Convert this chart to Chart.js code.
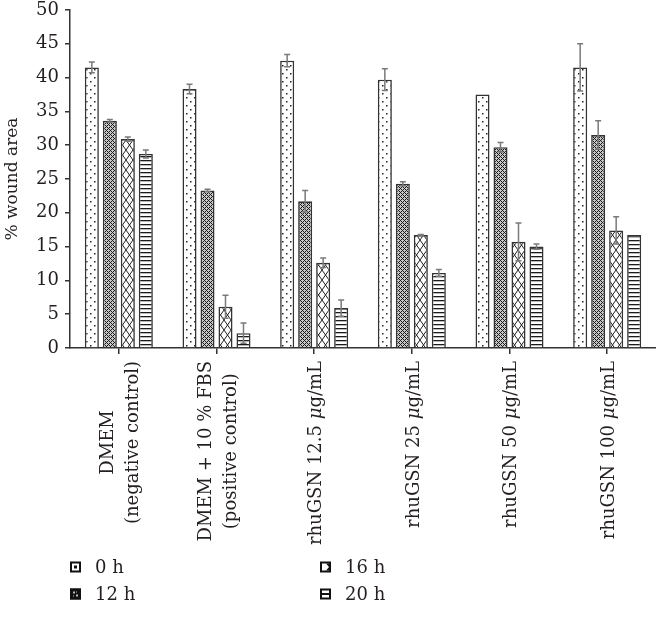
<!DOCTYPE html>
<html>
<head>
<meta charset="utf-8">
<script src="https://cdn.jsdelivr.net/npm/chart.js@4.4.1/dist/chart.umd.min.js"></script>
<style>
  html, body { margin: 0; padding: 0; background: #fff; }
  #wrap { width: 656px; height: 621px; position: relative; }
</style>
</head>
<body>
<div id="wrap"><canvas id="c" width="656" height="621"></canvas></div>
<script>
// ---- data ----
const categories = [
  ["DMEM", "(negative control)"],
  ["DMEM + 10 % FBS", "(positive control)"],
  ["rhuGSN 12.5 μg/mL"],
  ["rhuGSN 25 μg/mL"],
  ["rhuGSN 50 μg/mL"],
  ["rhuGSN 100 μg/mL"]
];
const seriesNames = ["0 h", "12 h", "16 h", "20 h"];
const h0  = [41.5, 38.3, 42.5, 39.7, 37.5, 41.5];
const h12 = [33.6, 23.3, 21.7, 24.3, 29.7, 31.5];
const h16 = [30.9, 6.1, 12.6, 16.7, 15.7, 17.4];
const h20 = [28.7, 2.2, 5.9, 11.1, 15.0, 16.7];
const err0  = [0.8, 0.7, 0.9, 1.6, 0.0, 3.5];
const err12 = [0.2, 0.2, 1.6, 0.3, 0.7, 2.1];
const err16 = [0.3, 1.7, 0.7, 0.1, 2.8, 2.0];
const err20 = [0.6, 1.5, 1.2, 0.5, 0.4, 0.0];
const yTicks = [0, 5, 10, 15, 20, 25, 30, 35, 40, 45, 50];
const yTitle = "% wound area";

// ---- patterns ----
function makePattern(w, h, draw) {
  const c = document.createElement('canvas');
  c.width = w; c.height = h;
  const g = c.getContext('2d');
  draw(g, w, h);
  return document.getElementById('c').getContext('2d').createPattern(c, 'repeat');
}
const patDots = makePattern(8, 8, (g, w, h) => {
  g.fillStyle = '#fff'; g.fillRect(0, 0, w, h);
  g.fillStyle = '#222';
  g.fillRect(2, 1, 1.5, 1.5);
  g.fillRect(6, 5, 1.5, 1.5);
});
const patMesh = makePattern(4, 4, (g, w, h) => {
  g.fillStyle = '#c8c8c8'; g.fillRect(0, 0, w, h);
  g.fillStyle = '#1a1a1a';
  [[0,0],[1,1],[2,2],[3,3],[1,3],[3,1]].forEach(p => g.fillRect(p[0], p[1], 1, 1));
});
const patDiamond = makePattern(7, 10, (g, w, h) => {
  g.fillStyle = '#fff'; g.fillRect(0, 0, w, h);
  g.strokeStyle = '#222'; g.lineWidth = 1;
  g.beginPath();
  g.moveTo(0, 0); g.lineTo(w, h);
  g.moveTo(w, 0); g.lineTo(0, h);
  g.stroke();
});
const patLines = makePattern(4, 4, (g, w, h) => {
  g.fillStyle = '#fff'; g.fillRect(0, 0, w, h);
  g.fillStyle = '#1a1a1a'; g.fillRect(0, 0, w, 1.3);
});

const values = [h0, h12, h16, h20];
const errors = [err0, err12, err16, err20];
const fills = [patDots, patMesh, patDiamond, patLines];

const SERIF = '"DejaVu Serif", serif';
const TEXT = '#231f20';

// ---- plugins ----
const errorBars = {
  id: 'errorBars',
  afterDatasetsDraw(chart) {
    const ctx = chart.ctx, y = chart.scales.y;
    ctx.save();
    ctx.strokeStyle = '#7a7a7a';
    ctx.lineWidth = 1.5;
    chart.data.datasets.forEach((ds, di) => {
      const meta = chart.getDatasetMeta(di);
      meta.data.forEach((bar, i) => {
        const e = errors[di][i];
        if (!e) return;
        const v = ds.data[i];
        const yt = y.getPixelForValue(v + e), yb = y.getPixelForValue(v - e);
        const x = bar.x, cw = 3;
        ctx.beginPath();
        ctx.moveTo(x, yt); ctx.lineTo(x, yb);
        ctx.moveTo(x - cw, yt); ctx.lineTo(x + cw, yt);
        ctx.moveTo(x - cw, yb); ctx.lineTo(x + cw, yb);
        ctx.stroke();
      });
    });
    ctx.restore();
  }
};

const FONT_N = '18px ' + SERIF, FONT_I = 'italic 18px ' + SERIF;
function splitRich(text) {
  const parts = [];
  let buf = '';
  for (const ch of text) {
    if (ch === 'μ') { if (buf) parts.push([buf, false]); parts.push([ch, true]); buf = ''; }
    else buf += ch;
  }
  if (buf) parts.push([buf, false]);
  return parts;
}
function richWidth(ctx, text) {
  let total = 0;
  splitRich(text).forEach(p => { ctx.font = p[1] ? FONT_I : FONT_N; total += ctx.measureText(p[0]).width; });
  return total;
}
function drawRich(ctx, text, cx, cy) {
  const parts = splitRich(text);
  const total = richWidth(ctx, text);
  let x = cx - total / 2;
  ctx.textAlign = 'left';
  parts.forEach(p => {
    ctx.font = p[1] ? FONT_I : FONT_N;
    ctx.fillText(p[0], x, cy);
    x += ctx.measureText(p[0]).width;
  });
}

const customText = {
  id: 'customText',
  afterDraw(chart) {
    const ctx = chart.ctx, xs = chart.scales.x;
    ctx.save();
    ctx.fillStyle = TEXT;
    ctx.textBaseline = 'middle';
    // x category labels, rotated; block anchored just below the axis
    const anchorY = 361;
    categories.forEach((lines, i) => {
      const px = xs.getPixelForValue(i);
      const maxW = Math.max(...lines.map(l => richWidth(ctx, l)));
      ctx.save();
      ctx.translate(px + 2, anchorY + maxW / 2);
      ctx.rotate(-Math.PI / 2);
      const n = lines.length, lh = 25;
      lines.forEach((ln, k) => {
        const off = (k - (n - 1) / 2) * lh;
        drawRich(ctx, ln, 0, off);
      });
      ctx.restore();
    });
    // legend
    const pos = [[70, 567], [70, 594], [320, 567], [320, 594]];
    pos.forEach((p, k) => {
      const x = p[0], yc = p[1], s = 11, y0 = yc - s / 2;
      ctx.fillStyle = '#fff';
      ctx.fillRect(x, y0, s, s);
      ctx.fillStyle = '#111';
      if (k === 0) {
        ctx.fillRect(x + 4, y0 + 4, 3, 3);
      } else if (k === 1) {
        ctx.fillRect(x, y0, s, s);
        ctx.fillStyle = '#bbb';
        ctx.fillRect(x + 3, y0 + 3, 2, 2);
        ctx.fillRect(x + 6, y0 + 6, 2, 2);
        ctx.fillRect(x + 6, y0 + 3, 1, 1);
        ctx.fillRect(x + 3, y0 + 7, 1, 1);
      } else if (k === 2) {
        ctx.beginPath();
        ctx.moveTo(x + 6, y0 + 2); ctx.lineTo(x + 9, y0 + 5.5); ctx.lineTo(x + 6, y0 + 9);
        ctx.lineTo(x + 9, y0 + 9); ctx.lineTo(x + 9, y0 + 2); ctx.closePath();
        ctx.fill();
      } else {
        ctx.fillRect(x + 2, y0 + 4.5, 7, 2);
      }
      ctx.strokeStyle = '#111';
      ctx.lineWidth = 2;
      ctx.strokeRect(x + 1, y0 + 1, s - 2, s - 2);
      ctx.fillStyle = TEXT;
      ctx.font = FONT_N;
      ctx.textAlign = 'left';
      ctx.textBaseline = 'middle';
      ctx.fillText(seriesNames[k], x + 25, yc + 1);
    });
    ctx.restore();
  }
};

// ---- chart ----
new Chart(document.getElementById('c'), {
  type: 'bar',
  data: {
    labels: categories.map(c => c.join(' ')),
    datasets: seriesNames.map((name, i) => ({
      label: name,
      data: values[i],
      backgroundColor: fills[i],
      borderColor: '#333',
      borderWidth: 1.6,
      borderSkipped: 'bottom',
      categoryPercentage: 0.737,
      barPercentage: 0.78
    }))
  },
  options: {
    responsive: false,
    animation: false,
    devicePixelRatio: 1,
    layout: { padding: { top: 10, right: 0, left: 0, bottom: 0 } },
    plugins: { legend: { display: false }, tooltip: { enabled: false } },
    scales: {
      x: {
        offset: true,
        grid: { display: true, drawOnChartArea: false, drawTicks: true, tickLength: 6, offset: false, color: '#333', lineWidth: 1.5 },
        border: { display: true, color: '#333', width: 1.5 },
        ticks: { display: false },
        afterFit(s) { s.height = 273; s.paddingLeft = 0; s.paddingRight = 0; }
      },
      y: {
        min: 0, max: 50,
        afterBuildTicks(s) { s.ticks = yTicks.map(v => ({ value: v })); },
        grid: { display: true, drawOnChartArea: false, drawTicks: true, tickLength: 5, color: '#333', lineWidth: 1.5 },
        border: { display: true, color: '#333', width: 1.5 },
        ticks: { color: TEXT, font: { family: SERIF, size: 18 }, padding: 6 },
        title: { display: true, text: yTitle, color: TEXT, font: { family: SERIF, size: 17 }, padding: { top: 2, bottom: 4 } },
        afterFit(s) { s.width = 70; s.paddingTop = 0; s.paddingBottom = 0; }
      }
    }
  },
  plugins: [errorBars, customText]
});
</script>
</body>
</html>
